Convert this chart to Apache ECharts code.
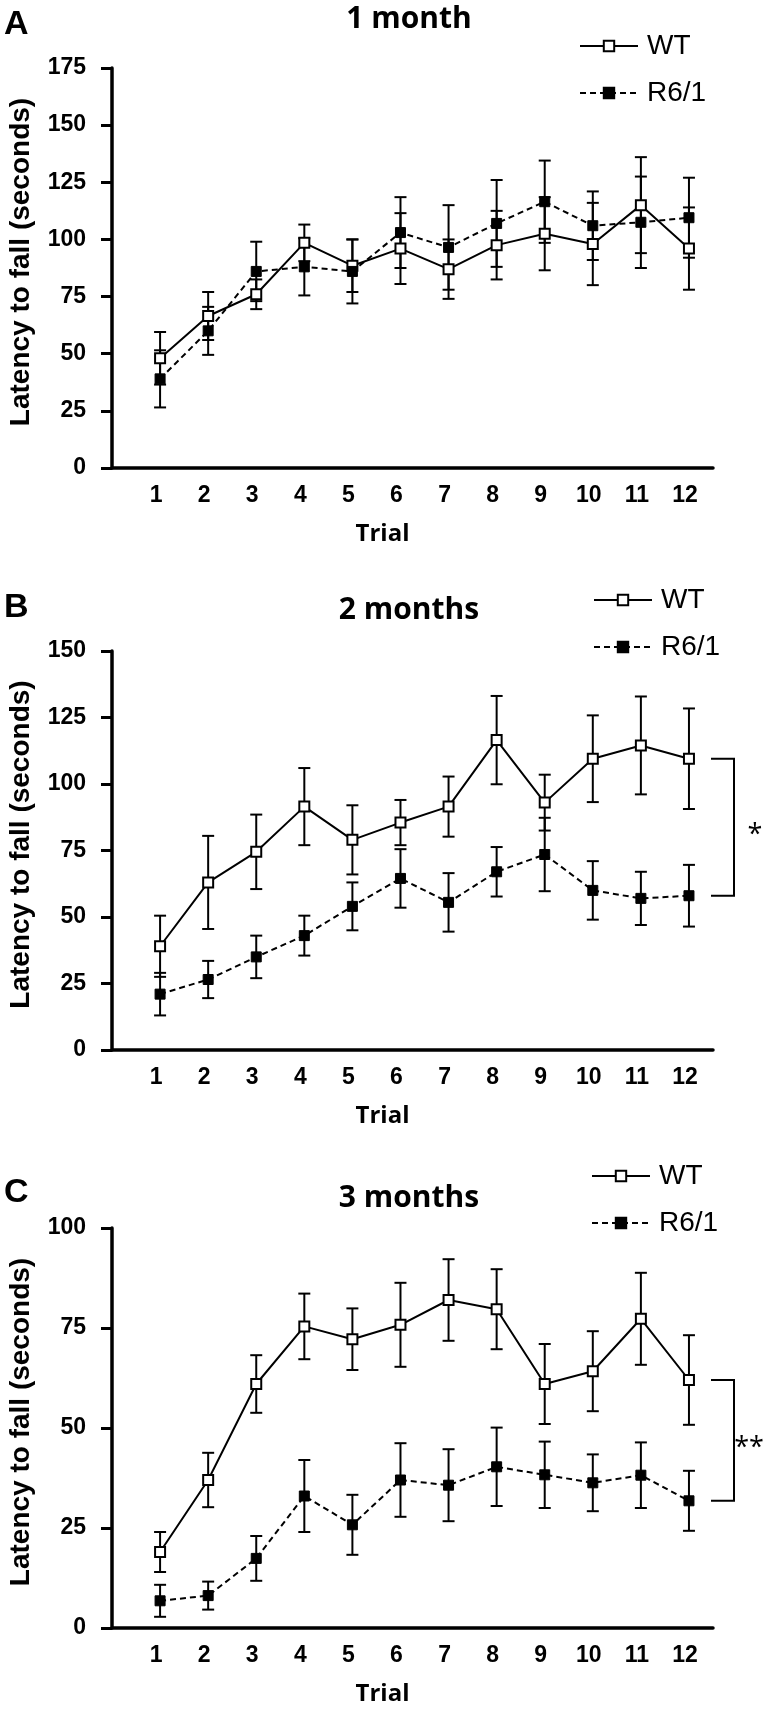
<!DOCTYPE html>
<html>
<head>
<meta charset="utf-8">
<script src="https://cdn.jsdelivr.net/npm/echarts@6/dist/echarts.min.js"></script>
<style>
    html, body { margin: 0; padding: 0; background: #fff; }
    #main { width: 764px; height: 1709px; }
</style>
</head>
<body>
<div id="main"></div>
<script type="text/javascript">
    var trials = [1, 2, 3, 4, 5, 6, 7, 8, 9, 10, 11, 12];

    // A - 1 month
    var wtA     = [48, 66.5, 76, 98.5, 88.5, 96, 87, 97.5, 102.5, 98, 115, 96];
    var wtErrA  = [11.5, 10.5, 6.5, 8, 11.5, 15.5, 13, 15, 16, 18, 21, 18];
    var r6A     = [39, 60, 86, 88, 86, 103, 96.5, 107, 116.5, 106, 107.5, 109.5];
    var r6ErrA  = [12.5, 10.5, 13, 12.5, 14, 15.5, 18.5, 19, 18, 15, 20, 17.5];
    var yTicksA = [0, 25, 50, 75, 100, 125, 150, 175];

    // B - 2 months
    var wtB     = [39, 63, 74.5, 91.5, 79, 85.5, 91.5, 116.5, 93, 109.5, 114.5, 109.5];
    var wtErrB  = [11.5, 17.5, 14, 14.5, 13, 8.5, 11.3, 16.6, 10.5, 16.3, 18.4, 18.9];
    var r6B     = [21, 26.5, 35, 43, 54, 64.5, 55.5, 67, 73.5, 60, 57, 58];
    var r6ErrB  = [8, 7, 8, 7.5, 9, 11, 11, 9.3, 13.8, 11, 10, 11.6];
    var yTicksB = [0, 25, 50, 75, 100, 125, 150];

    // C - 3 months
    var wtC     = [19, 37, 61, 75.4, 72.2, 75.8, 82, 79.7, 61, 64.2, 77.3, 62];
    var wtErrC  = [5, 6.8, 7.2, 8.2, 7.7, 10.5, 10.2, 10, 10, 10, 11.5, 11.2];
    var r6C     = [6.8, 8.1, 17.4, 33, 25.8, 37, 35.7, 40.3, 38.3, 36.3, 38.2, 31.8];
    var r6ErrC  = [4, 3.5, 5.6, 9, 7.5, 9.2, 9, 9.8, 8.3, 7.1, 8.2, 7.5];
    var yTicksC = [0, 25, 50, 75, 100];

    var panelTitles  = ['1 month', '2 months', '3 months'];
    var panelLetters = ['A', 'B', 'C'];
    var sigMarks     = ['', '*', '**'];
    var seriesNames  = ['WT', 'R6/1'];

    // page layout (pixels)
    var layout = [
        {top: 68,   height: 400, titleY: 19,   letterY: 25,   legendLeft: 579, legendTop: 32,   starDx: 0},
        {top: 651,  height: 399, titleY: 610,  letterY: 608,  legendLeft: 593, legendTop: 586,  starDx: 21},
        {top: 1228, height: 400, titleY: 1198, letterY: 1193, legendLeft: 591, legendTop: 1162, starDx: 15}
    ];

    var panels = [
        {wt: wtA, wtErr: wtErrA, r6: r6A, r6Err: r6ErrA, ticks: yTicksA},
        {wt: wtB, wtErr: wtErrB, r6: r6B, r6Err: r6ErrB, ticks: yTicksB},
        {wt: wtC, wtErr: wtErrC, r6: r6C, r6Err: r6ErrC, ticks: yTicksC}
    ];

    var black = '#000';
    var labelFont = 'Liberation Sans';
    var titleFont = 'Open Sans';

    function errorBars(gi, means, errs) {
        return {
            type: 'custom',
            xAxisIndex: gi,
            yAxisIndex: gi,
            z: 1,
            silent: true,
            data: trials.map(function (t, i) { return [t, means[i] - errs[i], means[i] + errs[i]]; }),
            encode: {x: 0, y: [1, 2]},
            renderItem: function (params, api) {
                var lo = api.coord([api.value(0), api.value(1)]);
                var hi = api.coord([api.value(0), api.value(2)]);
                var w = 6;
                var st = {stroke: black, lineWidth: 2};
                return {
                    type: 'group',
                    children: [
                        {type: 'line', shape: {x1: lo[0], y1: lo[1], x2: hi[0], y2: hi[1]}, style: st},
                        {type: 'line', shape: {x1: lo[0] - w, y1: lo[1], x2: lo[0] + w, y2: lo[1]}, style: st},
                        {type: 'line', shape: {x1: hi[0] - w, y1: hi[1], x2: hi[0] + w, y2: hi[1]}, style: st}
                    ]
                };
            }
        };
    }

    function lineSeries(gi, name, means, filled) {
        return {
            name: name,
            type: 'line',
            xAxisIndex: gi,
            yAxisIndex: gi,
            z: 3,
            data: trials.map(function (t, i) { return [t, means[i]]; }),
            symbol: 'rect',
            symbolSize: 10,
            itemStyle: filled
                ? {color: black, borderColor: black, borderWidth: 1}
                : {color: '#fff', borderColor: black, borderWidth: 2},
            lineStyle: {color: black, width: 2, type: filled ? [6, 4] : 'solid'},
            emphasis: {disabled: true}
        };
    }

    function bracket(gi, top, bottom, mark, dx) {
        return {
            type: 'custom',
            xAxisIndex: gi,
            yAxisIndex: gi,
            silent: true,
            clip: false,
            data: [[12.5, top, bottom]],
            renderItem: function (params, api) {
                var a = api.coord([api.value(0), api.value(1)]);
                var b = api.coord([api.value(0), api.value(2)]);
                var x0 = a[0] - 2, x1 = a[0] + 21;
                return {
                    type: 'group',
                    children: [
                        {type: 'polyline', shape: {points: [[x0, a[1]], [x1, a[1]], [x1, b[1]], [x0, b[1]]]},
                         style: {stroke: black, fill: null, lineWidth: 2}},
                        {type: 'text', x: x1 + dx, y: (a[1] + b[1]) / 2 + 8,
                         style: {text: mark, fontSize: 27, fontFamily: titleFont, fill: black,
                                 align: 'center', verticalAlign: 'middle'}}
                    ]
                };
            }
        };
    }

    var grids = [], xAxes = [], yAxes = [], legends = [], series = [], graphics = [];

    panels.forEach(function (p, gi) {
        var L = layout[gi];
        grids.push({left: 112, width: 601, top: L.top, height: L.height, outerBoundsMode: 'none'});

        xAxes.push({
            type: 'value', gridIndex: gi, min: 0, max: 12.5, interval: 1,
            axisLine: {show: true, onZero: false, lineStyle: {color: black, width: 3.5}},
            axisTick: {show: false},
            splitLine: {show: false},
            axisLabel: {
                formatter: function (v) { return (v >= 1 && v <= 12 && v % 1 === 0) ? String(v) : ''; },
                fontSize: 23, fontWeight: 'bold', fontFamily: labelFont, color: black,
                margin: 16, padding: [0, 8, 0, 0]
            },
            name: 'Trial', nameLocation: 'middle', nameGap: 54,
            nameTextStyle: {fontSize: 24, fontWeight: 'bold', fontFamily: titleFont, color: black, padding: [0, 60, 0, 0]}
        });

        yAxes.push({
            type: 'value', gridIndex: gi, min: 0, max: p.ticks[p.ticks.length - 1],
            interval: p.ticks[1] - p.ticks[0],
            axisLine: {show: true, lineStyle: {color: black, width: 3.5}},
            axisTick: {show: true, inside: false, length: 11, lineStyle: {color: black, width: 3}},
            splitLine: {show: false},
            axisLabel: {fontSize: 23, fontWeight: 'bold', fontFamily: labelFont, color: black, margin: 26},
            name: 'Latency to fall (seconds)', nameLocation: 'middle', nameGap: 77,
            nameTextStyle: {fontSize: 28, fontWeight: 'bold', fontFamily: labelFont, color: black, padding: [0, 0, 0, 12]}
        });

        legends.push({
            orient: 'vertical', left: L.legendLeft, top: L.legendTop, padding: 0,
            itemWidth: 58, itemHeight: 13, itemGap: 19,
            data: seriesNames,
            selectedMode: false,
            textStyle: {fontSize: 28, fontFamily: labelFont, color: black, lineHeight: 28, padding: [0, 0, 0, 4]}
        });

        series.push(errorBars(gi, p.wt, p.wtErr));
        series.push(errorBars(gi, p.r6, p.r6Err));
        series.push(lineSeries(gi, seriesNames[0], p.wt, false));
        series.push(lineSeries(gi, seriesNames[1], p.r6, true));
        if (sigMarks[gi]) {
            series.push(bracket(gi, p.wt[11], p.r6[11], sigMarks[gi], L.starDx));
        }

        graphics.push({
            type: 'text', x: 409, y: L.titleY,
            style: {text: panelTitles[gi], fontSize: 30, fontWeight: 'bold', fontFamily: titleFont,
                    fill: black, align: 'center', verticalAlign: 'middle'}
        });
        graphics.push({
            type: 'text', x: 4, y: L.letterY,
            style: {text: panelLetters[gi], fontSize: 34, fontWeight: 'bold', fontFamily: labelFont,
                    fill: black, align: 'left', verticalAlign: 'middle'}
        });
    });

    var chart = echarts.init(document.getElementById('main'), null, {renderer: 'canvas'});
    chart.setOption({
        animation: false,
        backgroundColor: '#fff',
        grid: grids,
        xAxis: xAxes,
        yAxis: yAxes,
        legend: legends,
        series: series,
        graphic: graphics
    });
</script>
</body>
</html>
